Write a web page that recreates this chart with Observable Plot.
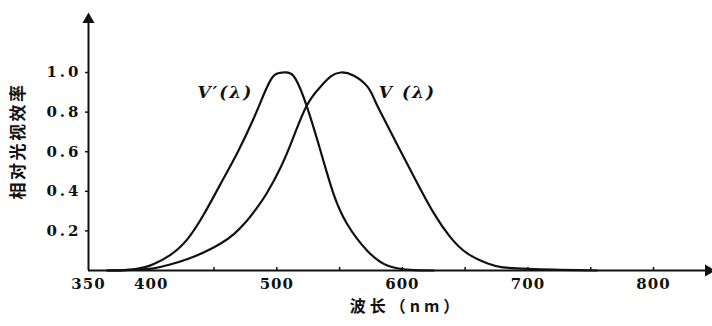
<!DOCTYPE html>
<html><head><meta charset="utf-8">
<script src="https://cdn.jsdelivr.net/npm/d3@7"></script>
<script src="https://cdn.jsdelivr.net/npm/@observablehq/plot@0.6"></script>
<style>body{margin:0;background:#fff}</style>
</head><body><div id="chart"></div>
<script>
// Axis domains and ticks
const xDomain = [350, 847];
const yDomain = [0, 1.288];
const xLabelTicks = [350, 400, 500, 600, 700, 800];
const xMinorTicks = [450, 500, 550, 600, 650, 700, 750, 800];
const yTicks = [0.2, 0.4, 0.6, 0.8, 1.0];

// Scotopic V'(λ)
const scotLambda = [365, 375, 386, 395, 402, 415, 429, 442, 455, 469, 481, 489, 497, 505, 513, 523, 535, 545, 556, 572, 588, 606, 625];
const scotValue  = [0, 0.001, 0.006, 0.017, 0.033, 0.078, 0.16, 0.285, 0.435, 0.60, 0.76, 0.88, 0.98, 1.0, 0.985, 0.845, 0.60, 0.39, 0.235, 0.10, 0.025, 0.003, 0];

// Photopic V(λ)
const photLambda = [365, 375, 390, 402, 415, 429, 442, 455, 466, 476, 484, 492, 503, 513, 524, 535, 543, 551, 561, 572, 578, 585, 598, 612, 625, 638, 652, 668, 680, 700, 720, 740, 755];
const photValue  = [0, 0.001, 0.004, 0.011, 0.03, 0.058, 0.092, 0.135, 0.185, 0.25, 0.315, 0.39, 0.52, 0.67, 0.835, 0.93, 0.98, 1.0, 0.985, 0.93, 0.86, 0.77, 0.61, 0.44, 0.29, 0.17, 0.085, 0.035, 0.016, 0.008, 0.004, 0.0015, 0];

// Curve labels (anchored in data units)
const curveLabels = [
  {text: "V′(λ)", x: 459, y: 0.90},
  {text: "V (λ)", x: 604, y: 0.90}
];
const yTitle = "相对光视效率";
const xTitle = "波长（nm）";

const scot = scotLambda.map((l, i) => ({l, v: scotValue[i]}));
const phot = photLambda.map((l, i) => ({l, v: photValue[i]}));

const serif = "DejaVu Serif";
const cjk = "'Noto Sans CJK SC', 'Noto Sans', sans-serif";

const chart = Plot.plot({
  width: 712, height: 326,
  marginLeft: 88, marginRight: 0, marginTop: 15, marginBottom: 56,
  x: {domain: xDomain},
  y: {domain: yDomain},
  style: {background: "#fff", color: "#111"},
  marks: [
    Plot.axisY({ticks: yTicks, tickSize: 3, tickPadding: 4, tickFormat: d => d.toFixed(1),
      fontFamily: serif, fontWeight: "bold", fontSize: 15, label: null, strokeWidth: 1.5}),
    Plot.axisX({ticks: xLabelTicks, tickSize: 0, tickPadding: 8, tickFormat: d => String(d),
      fontFamily: serif, fontWeight: "bold", fontSize: 15, label: null}),
    Plot.axisX({ticks: xMinorTicks, tickSize: 3, dy: -3, tickFormat: () => "", label: null, strokeWidth: 1.5}),
    Plot.ruleY([0], {strokeWidth: 2}),
    Plot.ruleX([xDomain[0]], {strokeWidth: 2}),
    Plot.dot([{x: xDomain[1], y: 0}], {x: "x", y: "y", symbol: "triangle", rotate: 90, r: 4.5, fill: "#111", dx: -4}),
    Plot.dot([{x: xDomain[0], y: yDomain[1]}], {x: "x", y: "y", symbol: "triangle", r: 4.5, fill: "#111", dy: 4}),
    Plot.line(scot, {x: "l", y: "v", curve: "natural", stroke: "#111", strokeWidth: 2.2}),
    Plot.line(phot, {x: "l", y: "v", curve: "natural", stroke: "#111", strokeWidth: 2.2}),
    Plot.text(curveLabels, {x: "x", y: "y", text: "text", fontFamily: serif, fontStyle: "italic",
      fontWeight: "bold", fontSize: 17, fill: "#111", className: "curve-label"}),
    Plot.text([yTitle], {frameAnchor: "left", textAnchor: "middle", lineAnchor: "middle", dx: -70, dy: -2, rotate: -90,
      fontFamily: cjk, fontWeight: "bold", fontSize: 17, fill: "#111", className: "y-title"}),
    Plot.text([xTitle], {frameAnchor: "bottom", textAnchor: "middle", lineAnchor: "middle", dx: 6, dy: 36,
      fontFamily: cjk, fontWeight: "bold", fontSize: 16, fill: "#111", className: "x-title"})
  ]
});
const s = d3.select(chart);
s.selectAll('g[aria-label="y-axis tick label"] text').style("letter-spacing", "3px");
s.selectAll('g[aria-label="x-axis tick label"] text').style("letter-spacing", "1px");
s.selectAll('.curve-label text').style("letter-spacing", "2px");
s.selectAll('.y-title text').style("letter-spacing", "2.5px");
s.selectAll('.x-title text').style("letter-spacing", "4px");
document.getElementById("chart").appendChild(chart);
</script>
</body></html>
